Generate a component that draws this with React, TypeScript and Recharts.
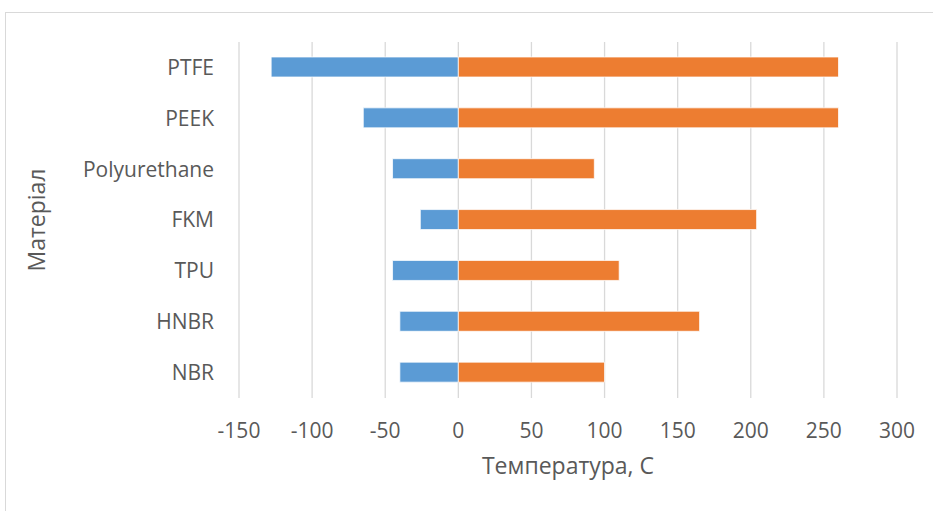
import { BarChart, Bar, XAxis, YAxis, CartesianGrid } from "recharts";

const materials = ["PTFE", "PEEK", "Polyurethane", "FKM", "TPU", "HNBR", "NBR"];
const minTemps = [-128, -65, -45, -26, -45, -40, -40];
const maxTemps = [260, 260, 93, 204, 110, 165, 100];
const xTicks = [-150, -100, -50, 0, 50, 100, 150, 200, 250, 300];

const data = materials.map((name, i) => ({
  name,
  min: minTemps[i],
  max: maxTemps[i],
}));

const font = "'Open Sans', 'Noto Sans', sans-serif";
const textColor = "#595959";

export default function App() {
  return (
    <div
      style={{
        position: "absolute",
        left: 0,
        top: 0,
        width: 933,
        height: 511,
        overflow: "hidden",
        background: "#fff",
        fontFamily: font,
      }}
    >
      <div
        style={{
          position: "absolute",
          left: 5,
          top: 12,
          width: 960,
          height: 540,
          border: "1.5px solid #d9d9d9",
        }}
      />
      <BarChart
        width={933}
        height={511}
        data={data}
        layout="vertical"
        stackOffset="sign"
        barSize={20}
        margin={{ top: 42, right: 36, bottom: 0, left: 0 }}
        style={{ position: "absolute", left: 0, top: 0 }}
      >
        <CartesianGrid horizontal={false} stroke="#d9d9d9" strokeWidth={1.3} />
        <XAxis
          type="number"
          domain={[-150, 300]}
          ticks={xTicks}
          height={113}
          axisLine={false}
          tickLine={false}
          tickSize={0}
          tickMargin={25}
          tick={{ fill: textColor, fontSize: 21, fontFamily: font }}
          label={{
            value: "Температура, С",
            position: "insideBottom",
            offset: 37,
            fill: textColor,
            fontSize: 23,
            fontFamily: font,
          }}
        />
        <YAxis
          type="category"
          dataKey="name"
          width={239}
          axisLine={false}
          tickLine={false}
          tickSize={0}
          tickMargin={25}
          interval={0}
          tick={{ fill: textColor, fontSize: 21, fontFamily: font }}
          label={{
            value: "Матеріал",
            angle: -90,
            position: "insideLeft",
            offset: 37,
            fill: textColor,
            fontSize: 23,
            fontFamily: font,
            style: { textAnchor: "middle" },
          }}
        />
        <Bar
          dataKey="min"
          stackId="t"
          fill="#5b9bd5"
          stroke="#ffffff"
          strokeWidth={0.75}
          isAnimationActive={false}
        />
        <Bar
          dataKey="max"
          stackId="t"
          fill="#ed7d31"
          stroke="#ffffff"
          strokeWidth={0.75}
          isAnimationActive={false}
        />
      </BarChart>
    </div>
  );
}
